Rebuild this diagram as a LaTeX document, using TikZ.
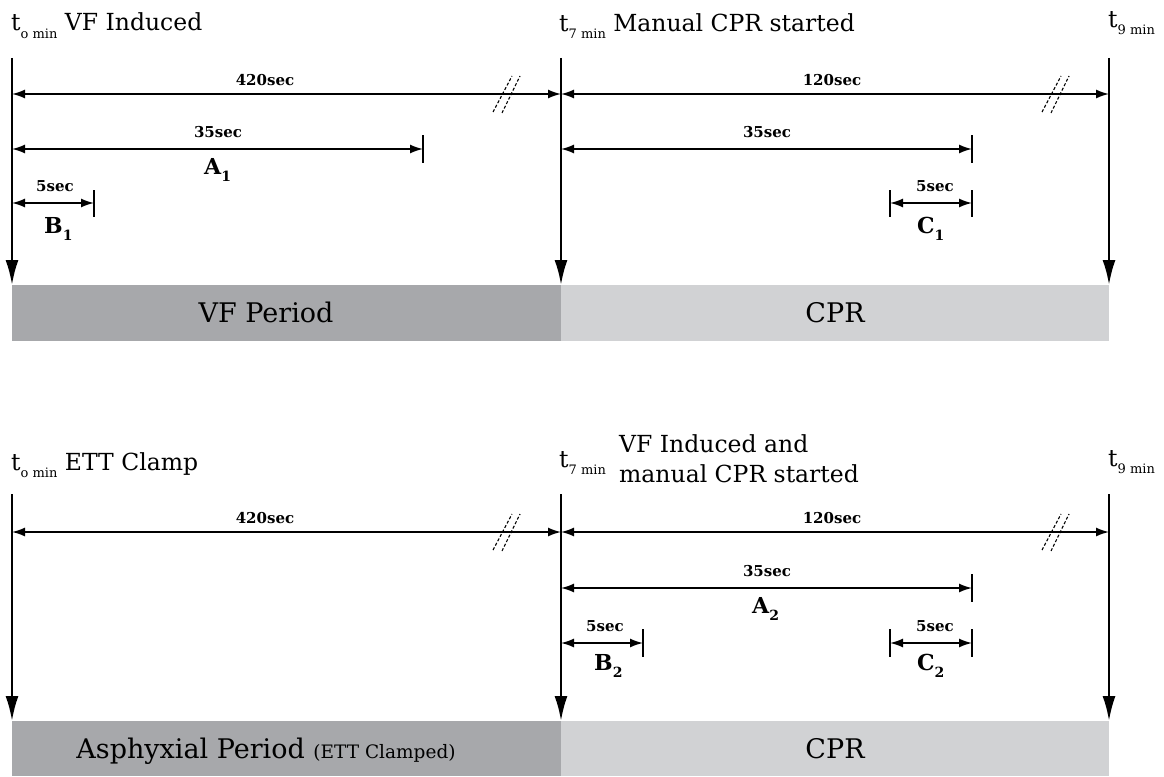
\documentclass[tikz,border=0pt]{standalone}
\usepackage{fontspec}
\setmainfont{DejaVu Serif}
\usetikzlibrary{arrows.meta}
\newcommand\tsub[1]{\raisebox{-7pt}{\fontsize{13}{13}\selectfont #1}}
\newcommand\bsub[1]{\raisebox{-7pt}{\fontsize{14}{14}\selectfont #1}}
\newcommand\brkmark[2]{%
  \draw[breakmark] (#1-10,#2+18) -- (#1+9,#2-18);
  \draw[breakmark] (#1-1,#2+19) -- (#1+17,#2-18);}
\definecolor{darkbar}{HTML}{A7A8AB}
\definecolor{lightbar}{HTML}{D1D2D4}
\begin{document}
\begin{tikzpicture}[x=1pt,y=-1pt,
  timeline/.style={line width=2.4pt,-{Latex[length=25pt,width=13pt]}},
  dimarrow/.style={line width=1.6pt,{Latex[length=13pt,width=9pt]}-{Latex[length=13pt,width=9pt]}},
  tickline/.style={line width=1.6pt},
  breakmark/.style={line width=1.1pt,dash pattern=on 3pt off 2pt},
  headlbl/.style={anchor=base west,inner sep=0pt,font=\fontsize{23.5}{27}\selectfont},
  dimlbl/.style={anchor=base,inner sep=0pt,font=\fontsize{15}{18}\selectfont\bfseries},
  letterlbl/.style={anchor=base west,inner sep=0pt,font=\fontsize{22}{26}\selectfont\bfseries},
  barlbl/.style={anchor=base,inner sep=0pt,font=\fontsize{27}{30}\selectfont}
]
\useasboundingbox (0,0) rectangle (1164,776);

% ---------------- bars ----------------
\fill[darkbar] (12,285) rectangle (561,341);
\fill[lightbar] (561,285) rectangle (1109,341);
\fill[darkbar] (12,721) rectangle (561,776);
\fill[lightbar] (561,721) rectangle (1109,776);

\node[barlbl] (vfp) at (266,322) {VF Period};
\node[barlbl] (cpr1) at (835,322) {CPR};
\node[barlbl] (asp) at (266,758) {Asphyxial Period {\fontsize{18.5}{20}\selectfont (ETT Clamped)}};
\node[barlbl] (cpr2) at (835,758) {CPR};

% ---------------- top timeline ----------------
\coordinate (u0s) at (12,58);  \coordinate (u0e) at (12,285);
\coordinate (u7s) at (561,58); \coordinate (u7e) at (561,285);
\coordinate (u9s) at (1109,58); \coordinate (u9e) at (1109,285);
\draw[timeline] (u0s) -- (u0e);
\draw[timeline] (u7s) -- (u7e);
\draw[timeline] (u9s) -- (u9e);

\node[headlbl] (ut0) at (11,31) {t\tsub{o min} VF Induced};
\node[headlbl] (ut7) at (559,32) {t\tsub{7 min} Manual CPR started};
\node[headlbl] (ut9) at (1108,28) {t\tsub{9 min}};

% 420 / 120
\coordinate (ua) at (12,94); \coordinate (ub) at (561,94); \coordinate (uc) at (1109,94);
\draw[dimarrow] (ua) -- (ub);
\draw[dimarrow] (ub) -- (uc);
\brkmark{503}{94}
\brkmark{1052}{94}
\node[dimlbl] (u420) at (265,85) {420sec};
\node[dimlbl] (u120) at (832,85) {120sec};

% 35 sec
\coordinate (ud) at (12,149); \coordinate (ue) at (423,149);
\draw[tickline] (423,135) -- (423,163);
\draw[dimarrow] (ud) -- (ue);
\node[dimlbl] (u35a) at (218,137) {35sec};
\node[letterlbl] (ua1) at (204,174) {A\bsub{1}};

\coordinate (uf) at (561,149); \coordinate (ug) at (972,149);
\draw[tickline] (972,135) -- (972,163);
\draw[dimarrow] (uf) -- (ug);
\node[dimlbl] (u35b) at (767,137) {35sec};

% 5 sec B1
\coordinate (uh) at (12,203); \coordinate (ui) at (94,203);
\draw[tickline] (94,190) -- (94,217);
\draw[dimarrow] (uh) -- (ui);
\node[dimlbl] (u5a) at (55,191) {5sec};
\node[letterlbl] (ub1) at (44,233) {B\bsub{1}};

% 5 sec C1
\coordinate (uj) at (890,203); \coordinate (uk) at (972,203);
\draw[tickline] (890,190) -- (890,217);
\draw[tickline] (972,190) -- (972,217);
\draw[dimarrow] (uj) -- (uk);
\node[dimlbl] (u5b) at (935,191) {5sec};
\node[letterlbl] (uc1) at (917,233) {C\bsub{1}};

% ---------------- bottom timeline ----------------
\coordinate (l0s) at (12,494);  \coordinate (l0e) at (12,721);
\coordinate (l7s) at (561,494); \coordinate (l7e) at (561,721);
\coordinate (l9s) at (1109,494); \coordinate (l9e) at (1109,721);
\draw[timeline] (l0s) -- (l0e);
\draw[timeline] (l7s) -- (l7e);
\draw[timeline] (l9s) -- (l9e);

\node[headlbl] (lt0) at (11,470) {t\tsub{o min} ETT Clamp};
\node[headlbl] (lt7) at (559,467) {t\tsub{7 min}};
\node[headlbl] (lvf1) at (619,452) {VF Induced and};
\node[headlbl] (lvf2) at (619,482) {manual CPR started};
\node[headlbl] (lt9) at (1108,466) {t\tsub{9 min}};

% 420 / 120
\coordinate (la) at (12,532); \coordinate (lb) at (561,532); \coordinate (lc) at (1109,532);
\draw[dimarrow] (la) -- (lb);
\draw[dimarrow] (lb) -- (lc);
\brkmark{503}{532}
\brkmark{1052}{532}
\node[dimlbl] (l420) at (265,523) {420sec};
\node[dimlbl] (l120) at (832,523) {120sec};

% 35 sec A2
\coordinate (ld) at (561,588); \coordinate (le) at (972,588);
\draw[tickline] (972,574) -- (972,602);
\draw[dimarrow] (ld) -- (le);
\node[dimlbl] (l35) at (767,576) {35sec};
\node[letterlbl] (la2) at (752,613) {A\bsub{2}};

% 5 sec B2
\coordinate (lf) at (561,643); \coordinate (lg) at (643,643);
\draw[tickline] (643,629) -- (643,657);
\draw[dimarrow] (lf) -- (lg);
\node[dimlbl] (l5a) at (605,631) {5sec};
\node[letterlbl] (lb2) at (594,670) {B\bsub{2}};

% 5 sec C2
\coordinate (lh) at (890,643); \coordinate (li) at (972,643);
\draw[tickline] (890,629) -- (890,657);
\draw[tickline] (972,629) -- (972,657);
\draw[dimarrow] (lh) -- (li);
\node[dimlbl] (l5b) at (935,631) {5sec};
\node[letterlbl] (lc2) at (917,670) {C\bsub{2}};

\end{tikzpicture}
\end{document}
